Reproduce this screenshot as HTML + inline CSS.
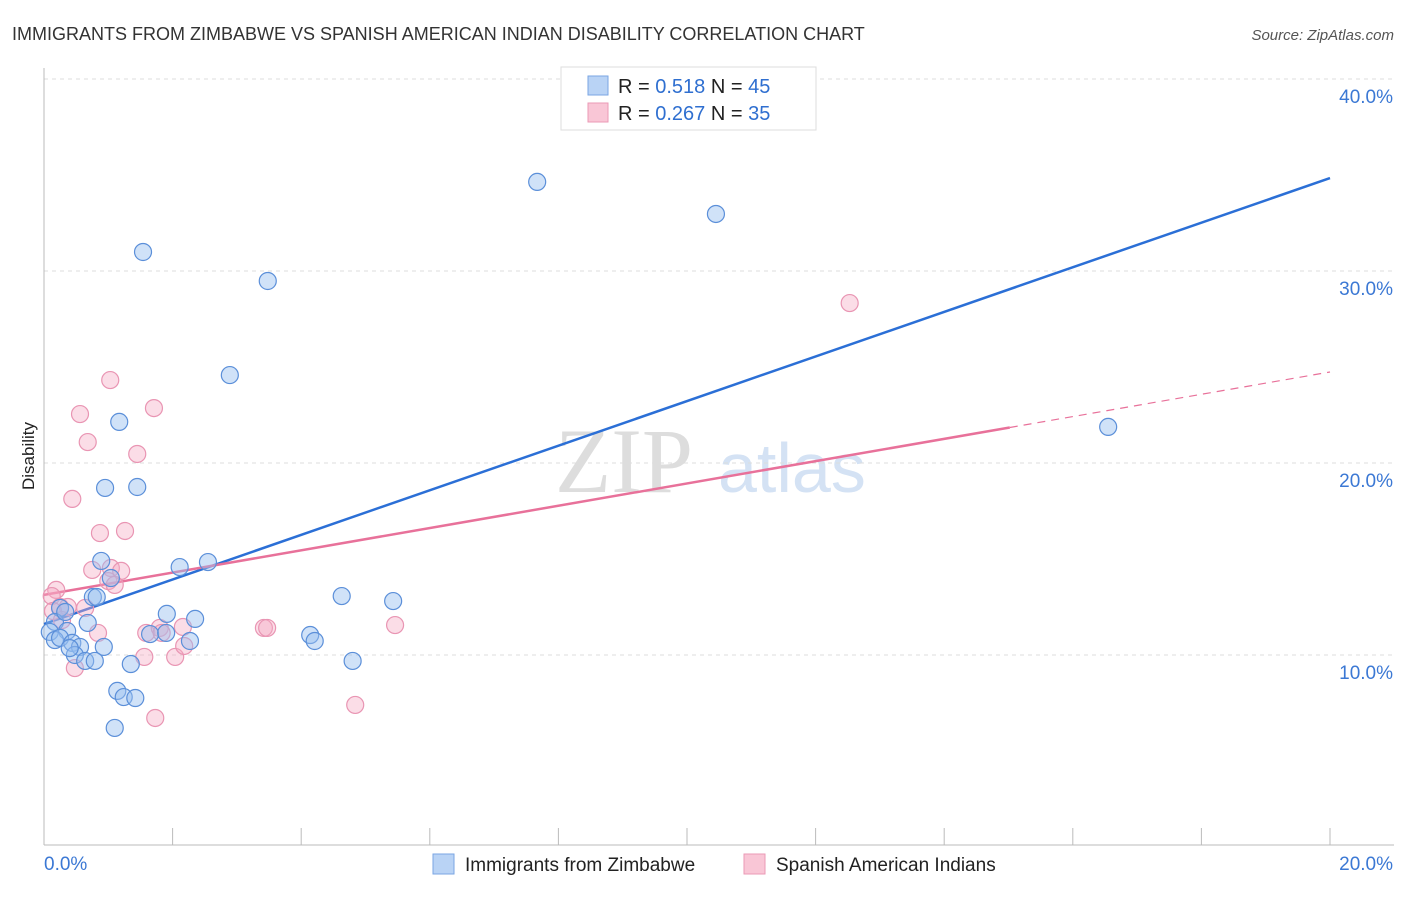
<!DOCTYPE html>
<html><head><meta charset="utf-8"><style>
body{margin:0;background:#fff;font-family:"Liberation Sans",sans-serif}
</style></head><body>
<svg id="c" width="1406" height="892" xmlns="http://www.w3.org/2000/svg" style="font-family:'Liberation Sans',sans-serif">
<text x="12" y="40" font-size="18" fill="#333">IMMIGRANTS FROM ZIMBABWE VS SPANISH AMERICAN INDIAN DISABILITY CORRELATION CHART</text>
<text x="1394" y="40" font-size="15" fill="#555" font-style="italic" text-anchor="end">Source: ZipAtlas.com</text>
<text transform="translate(34,456) rotate(-90)" font-size="17" fill="#222" text-anchor="middle">Disability</text>
<g><text x="555" y="492" font-size="92" fill="#ddd" font-family="Liberation Serif">ZIP</text><text x="718" y="492" font-size="70" fill="#d4e2f4">atlas</text></g>
<g id="grid"></g><g id="axes"></g><g id="trends"></g><g id="pts"></g>
<g>
<rect x="561" y="67" width="255" height="63" fill="#fff" stroke="#ddd"/>
<rect x="588" y="76" width="20" height="19" fill="#b9d3f5" stroke="#7aa6e3"/>
<rect x="588" y="103" width="20" height="19" fill="#f9c6d6" stroke="#eb9ab6"/>
<text x="618" y="93" font-size="20" fill="#222">R = <tspan fill="#2f6fd0">0.518</tspan>   N = <tspan fill="#2f6fd0">45</tspan></text>
<text x="618" y="120" font-size="20" fill="#222">R = <tspan fill="#2f6fd0">0.267</tspan>   N = <tspan fill="#2f6fd0">35</tspan></text>
</g>
<g>
<rect x="433" y="854" width="21" height="20" fill="#b9d3f5" stroke="#7aa6e3"/>
<text x="465" y="871" font-size="19" fill="#222">Immigrants from Zimbabwe</text>
<rect x="744" y="854" width="21" height="20" fill="#f9c6d6" stroke="#eb9ab6"/>
<text x="776" y="871" font-size="19" fill="#222">Spanish American Indians</text>
</g>
</svg>
<script>
const blueX=[7.67,10.45,1.54,3.48,2.89,16.55,1.17,0.95,1.45,0.89,2.55,2.11,1.04,0.76,0.82,4.63,5.43,1.91,2.35,0.25,0.68,0.17,0.09,0.36,4.14,4.21,2.27,1.65,1.90,0.17,0.25,0.44,0.56,0.93,0.48,0.64,0.79,1.35,4.80,1.14,1.24,1.42,1.10,0.33,0.40];
const blueY=[34.64,32.97,30.99,29.48,24.58,21.88,22.14,18.70,18.75,14.90,14.84,14.58,14.01,13.02,13.02,13.07,12.81,12.14,11.88,12.45,11.67,11.72,11.20,11.25,11.04,10.73,10.73,11.09,11.15,10.78,10.89,10.63,10.42,10.42,10.00,9.69,9.69,9.53,9.69,8.13,7.81,7.76,6.20,12.24,10.36];
const pinkX=[12.53,1.03,0.56,1.71,0.68,1.45,0.44,0.87,1.26,0.75,1.04,1.20,1.00,1.10,0.19,0.12,0.25,0.37,0.64,0.14,0.84,1.59,1.80,1.83,2.16,3.42,3.47,5.46,2.04,1.56,0.48,2.18,1.73,4.84,0.28];
const pinkY=[28.33,24.32,22.55,22.86,21.09,20.47,18.13,16.35,16.46,14.43,14.53,14.38,13.85,13.65,13.39,13.07,12.50,12.50,12.45,12.29,11.15,11.15,11.41,11.15,11.46,11.41,11.41,11.56,9.90,9.90,9.32,10.47,6.72,7.40,11.82];
const blueTrend=[11.61,34.84];
const pinkTrend=[13.13,24.74];
const pinkSolidEnd=15.02;
const yTicks=[10,20,30,40];
const yTickLabels=["10.0%","20.0%","30.0%","40.0%"];
const xTickLabels=["0.0%","20.0%"];
const NS="http://www.w3.org/2000/svg";
const sx=v=>44+v/20*1286, sy=v=>847-v*19.2;
function mk(t,a,p){const e=document.createElementNS(NS,t);for(const k in a)e.setAttribute(k,a[k]);p.appendChild(e);return e;}
const grid=document.getElementById('grid'),axes=document.getElementById('axes'),tr=document.getElementById('trends'),pts=document.getElementById('pts');
yTicks.forEach((v,i)=>{const l=mk('line',{x1:44,x2:1394,y1:sy(v),y2:sy(v),stroke:'#ddd','stroke-dasharray':'4,4'},grid);

const t=mk('text',{x:1393,y:sy(v)+24,'font-size':19,fill:'#3b78d4','text-anchor':'end'},axes);t.textContent=yTickLabels[i];
});
let a=mk('line',{x1:44,x2:44,y1:68,y2:845,stroke:'#bbb'},axes);
a=mk('line',{x1:44,x2:1394,y1:845,y2:845,stroke:'#bbb'},axes);
for(let k=0;k<=10;k++){const t=mk('line',{x1:sx(k*2),x2:sx(k*2),y1:828,y2:845,stroke:'#bbb'},axes);}
let t=mk('text',{x:44,y:870,'font-size':19,fill:'#3b78d4'},axes);t.textContent=xTickLabels[0];
t=mk('text',{x:1393,y:870,'font-size':19,fill:'#3b78d4','text-anchor':'end'},axes);t.textContent=xTickLabels[1];
function dots(X,Y,fill,stroke,name){X.forEach((x,i)=>{const c=mk('circle',{cx:sx(x),cy:sy(Y[i]),r:8.5,fill:fill,stroke:stroke,'stroke-width':1.2},pts);
});}
dots(pinkX,pinkY,'rgba(246,170,196,0.4)','#e995b3','point-spanish-american-indian');
dots(blueX,blueY,'rgba(150,190,240,0.45)','#5b8fd9','point-zimbabwe');
let l=mk('line',{x1:sx(0),y1:sy(blueTrend[0]),x2:sx(20),y2:sy(blueTrend[1]),stroke:'#2b6fd6','stroke-width':2.5},tr);

const py=x=>pinkTrend[0]+(pinkTrend[1]-pinkTrend[0])*x/20;
l=mk('line',{x1:sx(0),y1:sy(py(0)),x2:sx(pinkSolidEnd),y2:sy(py(pinkSolidEnd)),stroke:'#e8719a','stroke-width':2.5},tr);

l=mk('line',{x1:sx(pinkSolidEnd),y1:sy(py(pinkSolidEnd)),x2:sx(20),y2:sy(py(20)),stroke:'#e8719a','stroke-width':1.2,'stroke-dasharray':'8,6'},tr);

</script>
</body></html>
